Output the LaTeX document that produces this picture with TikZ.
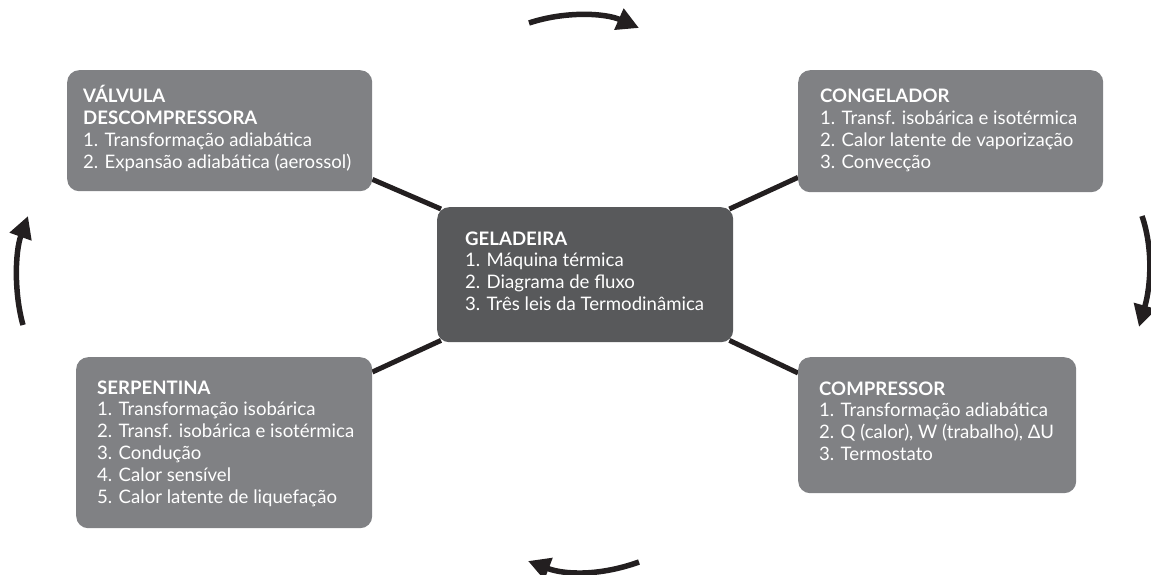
\documentclass[tikz,border=0pt]{standalone}
\usepackage{fontspec}
\setmainfont{Lato}
\usetikzlibrary{arrows.meta,backgrounds}
\definecolor{boxgray}{HTML}{808184}
\definecolor{boxdark}{HTML}{58595B}
\definecolor{linek}{HTML}{231F20}
\tikzset{
  outerbox/.style={draw=none,fill=boxgray,rounded corners=12pt,anchor=north west,inner sep=0pt},
  centerbox/.style={draw=none,fill=boxdark,rounded corners=12pt,anchor=north west,inner sep=0pt},
  boxtext/.style={anchor=base west,inner sep=0pt,align=left,text=white,font=\fontsize{18.6}{21.8}\selectfont},
  link/.style={draw=linek,line width=5pt},
  cyc/.style={draw=linek,line width=5.5pt,-{Triangle[length=22pt,width=22pt]}}
}
\begin{document}
\begin{tikzpicture}[x=1pt,y=-1pt]
\useasboundingbox (0,0) rectangle (1151,575);
% boxes
\node[outerbox,minimum width=305pt,minimum height=121pt] (v) at (67,70) {};
\node[outerbox,minimum width=305pt,minimum height=122pt] (c) at (798,70) {};
\node[centerbox,minimum width=296pt,minimum height=135pt] (g) at (437,207) {};
\node[outerbox,minimum width=296pt,minimum height=171pt] (s) at (76,357) {};
\node[outerbox,minimum width=278pt,minimum height=136pt] (p) at (798,357) {};
% texts (anchored at the baseline of the last line)
\node[boxtext] (vt) at (83,168.4) {\textbf{VÁLVULA}\\\textbf{DESCOMPRESSORA}\\1. Transformação adiabática\\2. Expansão adiabática (aerossol)};
\node[boxtext] (ct) at (820,168.4) {\textbf{CONGELADOR}\\1. Transf. isobárica e isotérmica\\2. Calor latente de vaporização\\3. Convecção};
\node[boxtext] (gt) at (465,310.4) {\textbf{GELADEIRA}\\1. Máquina térmica\\2. Diagrama de fluxo\\3. Três leis da Termodinâmica};
\node[boxtext] (st) at (97,503) {\textbf{SERPENTINA}\\1. Transformação isobárica\\2. Transf. isobárica e isotérmica\\3. Condução\\4. Calor sensível\\5. Calor latente de liquefação};
\node[boxtext] (pt) at (819,460.4) {\textbf{COMPRESSOR}\\1. Transformação adiabática\\2. Q (calor), W (trabalho), ΔU\\3. Termostato};
% connectors
\begin{scope}[on background layer]
\draw[link] ([yshift=12pt]v.south east) -- ([shift={(4pt,-2pt)}]g.north west);
\draw[link] ([yshift=15pt]c.south west) -- ([shift={(-4pt,-2pt)}]g.north east);
\draw[link] ([yshift=-15pt]s.north east) -- ([shift={(4pt,2pt)}]g.south west);
\draw[link] ([yshift=-16pt]p.north west) -- ([shift={(-4pt,2pt)}]g.south east);
\end{scope}
% cycle arrows
\coordinate (a1s) at (529,23);  \coordinate (a1e) at (639,28);
\coordinate (a2s) at (1142,216); \coordinate (a2e) at (1139,327);
\coordinate (a3s) at (639,562); \coordinate (a3e) at (528,561);
\coordinate (a4s) at (23,325); \coordinate (a4e) at (28,216);
\draw[cyc] (a1s) .. controls (565,11) and (605,13) .. (a1e);
\draw[cyc] (a2s) .. controls (1153,248) and (1151,285) .. (a2e);
\draw[cyc] (a3s) .. controls (600,576) and (565,575) .. (a3e);
\draw[cyc] (a4s) .. controls (14,293) and (15,252) .. (a4e);
\end{tikzpicture}
\end{document}
